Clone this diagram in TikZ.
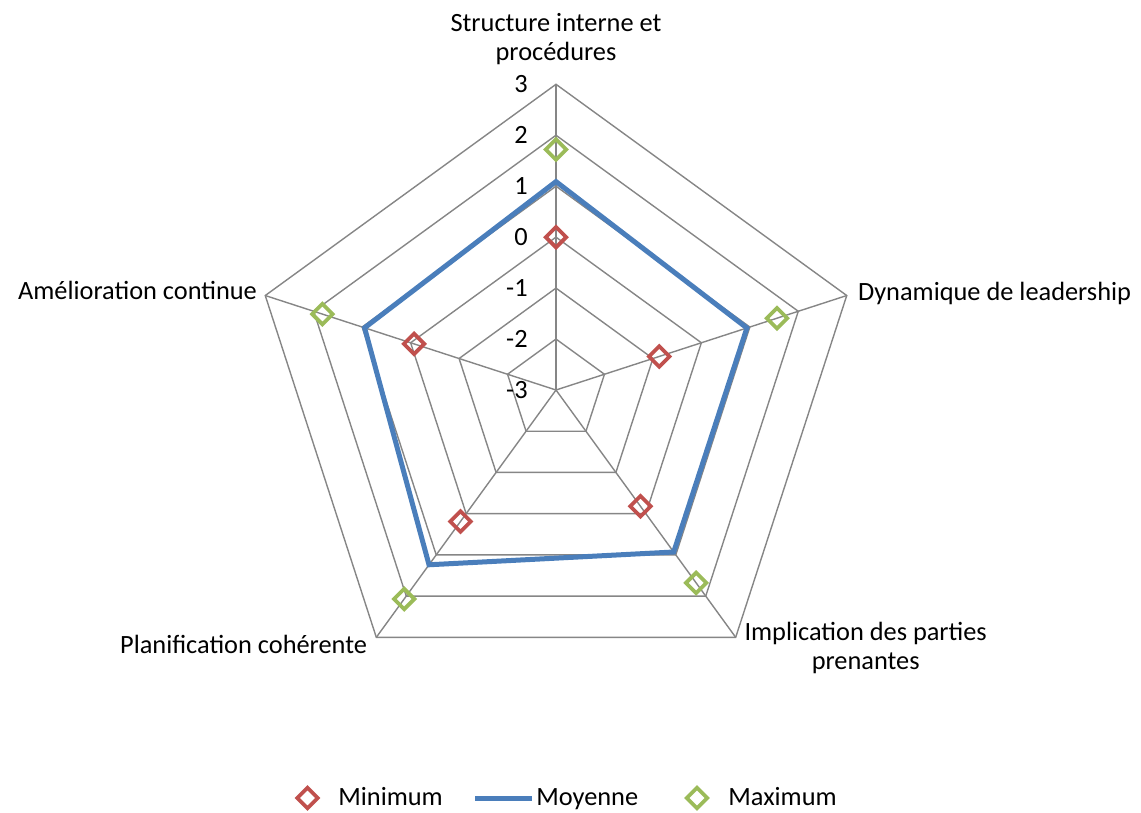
\documentclass[tikz,border=0pt]{standalone}
\usepackage{fontspec}
\setmainfont{Carlito}
\usepackage{tikz}
\usetikzlibrary{shapes.geometric,calc}
\definecolor{gridgray}{HTML}{868686}
\definecolor{minred}{HTML}{C0504D}
\definecolor{meanblue}{HTML}{4A7EBB}
\definecolor{maxgreen}{HTML}{9BBB59}
\tikzset{
  gridline/.style={draw=gridgray,line width=0.8pt},
  minmark/.style={diamond,draw=minred,line width=0.075cm,minimum size=0.44cm,inner sep=0pt},
  maxmark/.style={diamond,draw=maxgreen,line width=0.075cm,minimum size=0.44cm,inner sep=0pt},
  meanline/.style={draw=meanblue,line width=0.1cm},
  axislabel/.style={font=\fontsize{15}{16.5}\selectfont,inner sep=0pt,align=center},
  ticklabel/.style={font=\fontsize{15}{16.5}\selectfont,inner sep=0pt,anchor=east},
  legendtext/.style={font=\fontsize{15}{16.5}\selectfont,inner sep=0pt,anchor=base west}
}

\begin{document}
\begin{tikzpicture}[x=0.02cm,y=0.02cm]
  \useasboundingbox (-556,-422) rectangle (585,390);
  \coordinate (c) at (0,0);
  \foreach \k/\ang in {1/90,2/18,3/-54,4/-126,5/162}
    \coordinate (v\k) at (\ang:305.7);
  \foreach \r in {1,...,6}
    \draw[gridline] (90:{\r*50.95}) -- (18:{\r*50.95}) -- (-54:{\r*50.95})
      -- (-126:{\r*50.95}) -- (162:{\r*50.95}) -- cycle;
  \foreach \k in {1,...,5}
    \draw[gridline] (c) -- (v\k);
  \foreach \t [count=\n] in {-3,...,3}
    \node[ticklabel] (tick\n) at (-28,{(\n-1)*50.95}) {\t};
  \foreach \k/\ang/\vmin/\vmean/\vmax in {1/90/0/1.09/1.72,2/18/-0.87/0.94/1.56,
      3/-54/-0.18/0.93/1.68,4/-126/0.19/1.24/2.07,5/162/-0.07/0.95/1.82} {
    \coordinate (mean\k) at (\ang:{(\vmean+3)*50.95});
    \node[minmark] (min\k) at (\ang:{(\vmin+3)*50.95}) {};
    \node[maxmark] (max\k) at (\ang:{(\vmax+3)*50.95}) {};
  }
  \draw[meanline] (mean1) -- (mean2) -- (mean3) -- (mean4) -- (mean5) -- cycle;
  \node[axislabel,anchor=north] (lblstruct) at ($(v1)+(0,71)$) {Structure interne et\\procédures};
  \node[axislabel,anchor=base west] (lbldyn) at ($(v2)+(11,-5)$) {Dynamique de leadership};
  \node[axislabel,anchor=north] (lblimpl) at ($(v3)+(130,15)$) {Implication des parties\\prenantes};
  \node[axislabel,anchor=base east] (lblplan) at ($(v4)+(-9,-16)$) {Planification cohérente};
  \node[axislabel,anchor=base east] (lblamel) at ($(v5)+(-8,-4)$) {Amélioration continue};
  \node[minmark] (legmin) at (-248.5,-408) {};
  \node[legendtext] (txtmin) at (-218,-415) {Minimum};
  \coordinate (legmeanA) at (-81,-408);
  \coordinate (legmeanB) at (-24,-408);
  \draw[meanline] (legmeanA) -- (legmeanB);
  \node[legendtext] (txtmean) at (-20,-415) {Moyenne};
  \node[maxmark] (legmax) at (141,-408) {};
  \node[legendtext] (txtmax) at (172,-415) {Maximum};
\end{tikzpicture}
\end{document}
